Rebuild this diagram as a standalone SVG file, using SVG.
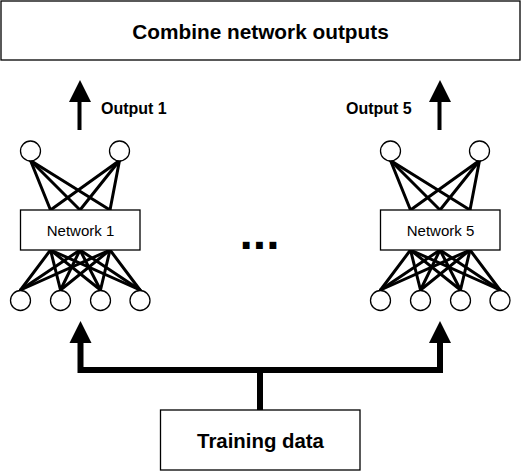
<svg xmlns="http://www.w3.org/2000/svg" width="521" height="471" viewBox="0 0 521 471">
<style>
.box{fill:#fff;stroke:#000;stroke-width:1.3}
.neuron{fill:#fff;stroke:#000;stroke-width:1.3}
.w{stroke:#000;stroke-width:3;stroke-linecap:round}
.thick{stroke:#000;stroke-width:6;fill:none}
.shaft{stroke:#000;stroke-width:4;fill:none}
.t{font-family:"Liberation Sans",Arial,sans-serif;fill:#000}
.b{font-weight:bold}
</style>
<rect width="521" height="471" fill="#fff"/>
<g id="connectors">
  <line class="shaft" x1="79.5" y1="130" x2="79.5" y2="100"/>
  <polygon points="80,80 69,102 91,102" fill="#000"/>
  <line class="shaft" x1="439.5" y1="130" x2="439.5" y2="100"/>
  <polygon points="440,80 429,102 451,102" fill="#000"/>
  <path class="thick" d="M260,410 V370 M80.5,370 H440 M80.5,373 V340 M440,373 V340" />
  <polygon points="80.5,321 69.5,343 91.5,343" fill="#000"/>
  <polygon points="440,321 429,343 451,343" fill="#000"/>
</g>
<g id="combine">
  <rect class="box" x="1" y="1" width="519" height="59"/>
  <text class="t b" x="260.5" y="39" font-size="20.8" text-anchor="middle">Combine network outputs</text>
</g>
<g id="output1-label">
  <text class="t b" x="101" y="114" font-size="16">Output 1</text>
</g>
<g id="output5-label">
  <text class="t b" x="346" y="114" font-size="16">Output 5</text>
</g>
<g id="network1">
  <g>
    <line class="w" x1="30.5" y1="160.5" x2="50.5" y2="210"/>
    <line class="w" x1="30.5" y1="160.5" x2="80" y2="210"/>
    <line class="w" x1="30.5" y1="160.5" x2="110" y2="210"/>
    <line class="w" x1="119.5" y1="160.5" x2="50.5" y2="210"/>
    <line class="w" x1="119.5" y1="160.5" x2="80" y2="210"/>
    <line class="w" x1="119.5" y1="160.5" x2="110" y2="210"/>
    <line class="w" x1="50.5" y1="250" x2="20.5" y2="290"/>
    <line class="w" x1="50.5" y1="250" x2="60.5" y2="290"/>
    <line class="w" x1="50.5" y1="250" x2="100.5" y2="290"/>
    <line class="w" x1="50.5" y1="250" x2="140" y2="290"/>
    <line class="w" x1="80" y1="250" x2="20.5" y2="290"/>
    <line class="w" x1="80" y1="250" x2="60.5" y2="290"/>
    <line class="w" x1="80" y1="250" x2="100.5" y2="290"/>
    <line class="w" x1="80" y1="250" x2="140" y2="290"/>
    <line class="w" x1="110" y1="250" x2="20.5" y2="290"/>
    <line class="w" x1="110" y1="250" x2="60.5" y2="290"/>
    <line class="w" x1="110" y1="250" x2="100.5" y2="290"/>
    <line class="w" x1="110" y1="250" x2="140" y2="290"/>
  </g>
  <circle class="neuron" cx="30.5" cy="151" r="10"/>
  <circle class="neuron" cx="119.5" cy="151" r="10"/>
  <circle class="neuron" cx="20.5" cy="300.5" r="10"/>
  <circle class="neuron" cx="60.5" cy="300.5" r="10"/>
  <circle class="neuron" cx="100.5" cy="300.5" r="10"/>
  <circle class="neuron" cx="140" cy="300.5" r="10"/>
  <rect class="box" x="20.5" y="210" width="119.5" height="40"/>
  <text class="t" x="80.5" y="236" font-size="15" text-anchor="middle">Network 1</text>
</g>
<g id="network5">
  <g>
    <line class="w" x1="390.5" y1="160.5" x2="410.5" y2="210"/>
    <line class="w" x1="390.5" y1="160.5" x2="440" y2="210"/>
    <line class="w" x1="390.5" y1="160.5" x2="470" y2="210"/>
    <line class="w" x1="479.5" y1="160.5" x2="410.5" y2="210"/>
    <line class="w" x1="479.5" y1="160.5" x2="440" y2="210"/>
    <line class="w" x1="479.5" y1="160.5" x2="470" y2="210"/>
    <line class="w" x1="410.5" y1="250" x2="380.5" y2="290"/>
    <line class="w" x1="410.5" y1="250" x2="420.5" y2="290"/>
    <line class="w" x1="410.5" y1="250" x2="460.5" y2="290"/>
    <line class="w" x1="410.5" y1="250" x2="500" y2="290"/>
    <line class="w" x1="440" y1="250" x2="380.5" y2="290"/>
    <line class="w" x1="440" y1="250" x2="420.5" y2="290"/>
    <line class="w" x1="440" y1="250" x2="460.5" y2="290"/>
    <line class="w" x1="440" y1="250" x2="500" y2="290"/>
    <line class="w" x1="470" y1="250" x2="380.5" y2="290"/>
    <line class="w" x1="470" y1="250" x2="420.5" y2="290"/>
    <line class="w" x1="470" y1="250" x2="460.5" y2="290"/>
    <line class="w" x1="470" y1="250" x2="500" y2="290"/>
  </g>
  <circle class="neuron" cx="390.5" cy="151" r="10"/>
  <circle class="neuron" cx="479.5" cy="151" r="10"/>
  <circle class="neuron" cx="380.5" cy="300.5" r="10"/>
  <circle class="neuron" cx="420.5" cy="300.5" r="10"/>
  <circle class="neuron" cx="460.5" cy="300.5" r="10"/>
  <circle class="neuron" cx="500" cy="300.5" r="10"/>
  <rect class="box" x="380.5" y="210" width="119.5" height="40"/>
  <text class="t" x="440.5" y="236" font-size="15" text-anchor="middle">Network 5</text>
</g>
<g id="ellipsis">
  <text class="t b" x="259.5" y="249" font-size="48" text-anchor="middle">...</text>
</g>
<g id="training">
  <rect class="box" x="160.5" y="410" width="199.5" height="60"/>
  <text class="t b" x="260.5" y="448" font-size="20.4" text-anchor="middle">Training data</text>
</g>
</svg>
